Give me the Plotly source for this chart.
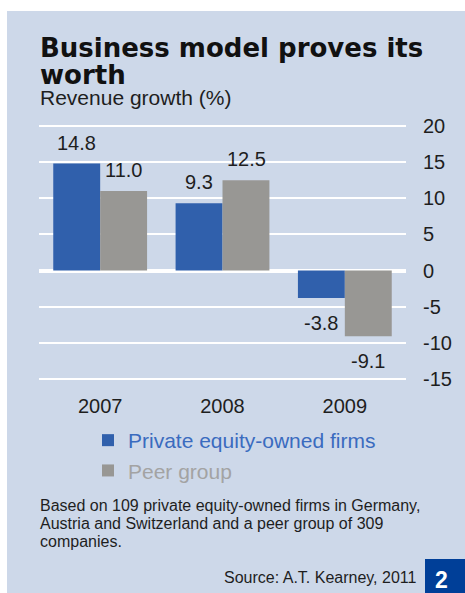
import plotly.graph_objects as go

# ---- data ----
years = ["2007", "2008", "2009"]
pe_owned = [14.8, 9.3, -3.8]
peer_group = [11.0, 12.5, -9.1]
series_names = ["Private equity-owned firms", "Peer group"]
y_tickvals = [20, 15, 10, 5, 0, -5, -10, -15]
y_ticktext = ["20", "15", "10", "5", "0", "-5", "-10", "-15"]
title_lines = ["Business model proves its", "worth"]
subtitle = "Revenue growth (%)"
note_lines = [
    "Based on 109 private equity-owned firms in Germany,",
    "Austria and Switzerland and a peer group of 309",
    "companies.",
]
source = "Source: A.T. Kearney, 2011"
page_no = "2"

# ---- style ----
W, H = 465, 593
ML, MR, MT, MB = 39, 59, 122, 210
PW, PH = W - ML - MR, H - MT - MB
BG = "#cdd8e9"
BLUE = "#3060ac"
GREY = "#989794"
BLUE_TXT = "#3a6bbf"
GREY_TXT = "#a3a3a3"
DARK = "#1e1e1e"
FONT = "Liberation Sans, Arial, sans-serif"


def xp(px):
    return (px - ML) / PW


def yp(py):
    return (H - MB - py) / PH


fig = go.Figure()
fig.add_trace(go.Bar(
    x=years, y=pe_owned, marker=dict(color=BLUE, line=dict(width=0)),
    name=f"<span style='color:{BLUE_TXT}'>{series_names[0]}</span>",
))
fig.add_trace(go.Bar(
    x=years, y=peer_group, marker=dict(color=GREY, line=dict(width=0)),
    name=f"<span style='color:{GREY_TXT}'>{series_names[1]}</span>",
))

annotations = []
for vals, shift in ((pe_owned, -23.5), (peer_group, 23.5)):
    for i, v in enumerate(vals):
        annotations.append(dict(
            x=i, y=v, xref="x", yref="y", text=f"{v:.1f}",
            showarrow=False, xshift=shift, yshift=21 if v >= 0 else -25,
            xanchor="center", yanchor="middle",
            font=dict(size=20, color=DARK, family=FONT),
        ))

# title
title_font = dict(size=26, color="#111111", family="DejaVu Sans, sans-serif", weight="bold")
annotations.append(dict(x=xp(38), y=yp(48), xref="paper", yref="paper", text=title_lines[0],
                        showarrow=False, xanchor="left", yanchor="middle", font=title_font))
annotations.append(dict(x=xp(38), y=yp(75), xref="paper", yref="paper", text=title_lines[1],
                        showarrow=False, xanchor="left", yanchor="middle", font=title_font))
annotations.append(dict(x=xp(38), y=yp(97), xref="paper", yref="paper", text=subtitle,
                        showarrow=False, xanchor="left", yanchor="middle",
                        font=dict(size=21, color=DARK, family=FONT)))
for i, line in enumerate(note_lines):
    annotations.append(dict(x=xp(38), y=yp(505 + i * 18.3), xref="paper", yref="paper", text=line,
                            showarrow=False, xanchor="left", yanchor="middle",
                            font=dict(size=16, color=DARK, family=FONT)))
annotations.append(dict(x=xp(419), y=yp(577.5), xref="paper", yref="paper", text=source,
                        showarrow=False, xanchor="right", yanchor="middle",
                        font=dict(size=16, color=DARK, family=FONT)))
annotations.append(dict(x=xp(442), y=yp(579.5), xref="paper", yref="paper", text=f"<b>{page_no}</b>",
                        showarrow=False, xanchor="center", yanchor="middle",
                        font=dict(size=23, color="white", family=FONT)))

shapes = [
    dict(type="rect", xref="paper", yref="paper", x0=xp(7), x1=xp(W + 2), y0=yp(H + 2), y1=yp(11),
         fillcolor=BG, line=dict(width=0), layer="below"),
    dict(type="rect", xref="paper", yref="paper", x0=xp(425), x1=xp(W + 2), y0=yp(H + 2), y1=yp(559),
         fillcolor="#003f98", line=dict(width=0), layer="below"),
]

ppu = 253 / 35.0
pad_units = 4 / ppu
fig.update_layout(
    width=W, height=H,
    margin=dict(l=ML, r=MR, t=MT, b=MB, pad=0),
    paper_bgcolor="white", plot_bgcolor="rgba(0,0,0,0)",
    barmode="group", bargap=0.233, bargroupgap=0,
    font=dict(family=FONT, color=DARK),
    showlegend=True,
    legend=dict(x=xp(88), y=yp(420), xanchor="left", yanchor="top",
                bgcolor="rgba(0,0,0,0)", font=dict(size=21, family=FONT),
                traceorder="normal", borderwidth=0),
    annotations=annotations,
    shapes=shapes,
    hovermode=False,
)
fig.update_xaxes(type="category", range=[-0.5, 2.5], autorange=False,
                 showgrid=False, zeroline=False, showline=False,
                 ticks="", ticklabelstandoff=9, tickfont=dict(size=20, color=DARK, family=FONT),
                 fixedrange=True)
fig.update_yaxes(range=[-15 - pad_units, 20 + pad_units], autorange=False, side="right",
                 tickvals=y_tickvals, ticktext=y_ticktext,
                 showgrid=True, gridcolor="white", gridwidth=2,
                 zeroline=True, zerolinecolor="white", zerolinewidth=4,
                 showline=False, ticks="", ticklabelstandoff=16,
                 tickfont=dict(size=20, color=DARK, family=FONT), fixedrange=True)

fig.write_html(
    "out.html",
    config={"displayModeBar": False},
    post_script="document.body.style.margin='0';document.body.style.overflow='hidden';",
)
